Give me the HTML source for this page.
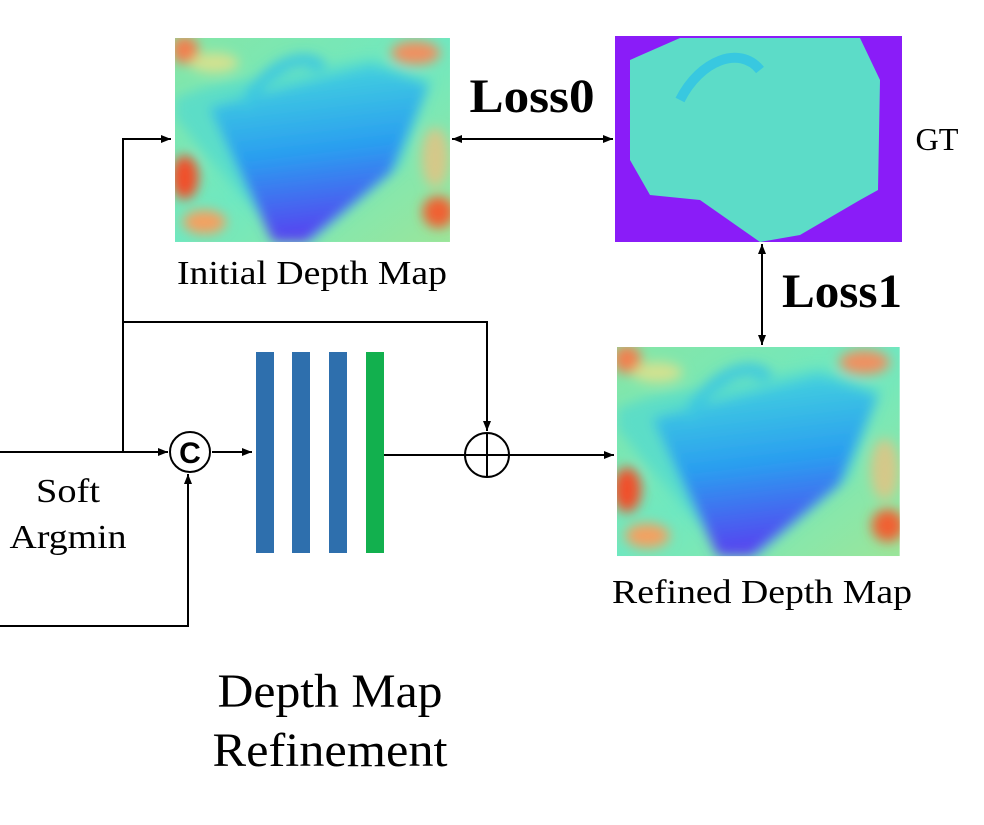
<!DOCTYPE html>
<html><head><meta charset="utf-8"><style>
html,body{margin:0;padding:0;background:#fff}
svg{display:block}
text{font-family:"Liberation Serif",serif;fill:#000}
</style></head><body>
<svg width="984" height="825" viewBox="0 0 984 825">
<defs>
<linearGradient id="bg" x1="0" y1="0" x2="1" y2="1">
<stop offset="0" stop-color="#86e6a6"/><stop offset="0.5" stop-color="#6fe8c0"/><stop offset="1" stop-color="#9be69a"/></linearGradient>
<linearGradient id="blu" x1="0.3" y1="0" x2="0.45" y2="1">
<stop offset="0" stop-color="#45d6dc"/><stop offset="0.5" stop-color="#2a9ef0"/><stop offset="1" stop-color="#5a3cf0"/></linearGradient>
<filter id="soft" x="0" y="0" width="1" height="1"><feGaussianBlur stdDeviation="6"/></filter>
<clipPath id="dc"><rect x="0" y="0" width="280" height="205"/></clipPath>
<marker id="ah" markerWidth="10" markerHeight="8" refX="10" refY="4" orient="auto" markerUnits="userSpaceOnUse"><path d="M0,0 L10,4 L0,8 Z" fill="#000"/></marker>
<marker id="ahs" markerWidth="10" markerHeight="8" refX="0" refY="4" orient="auto" markerUnits="userSpaceOnUse"><path d="M10,0 L0,4 L10,8 Z" fill="#000"/></marker>
<g id="dmap" clip-path="url(#dc)">
<rect x="0" y="0" width="280" height="205" fill="url(#bg)"/>
<g filter="url(#soft)">
<polygon points="0,60 30,50 200,20 262,42 230,130 140,205 110,205 60,150 0,80" fill="#50d8d0" opacity="0.7"/>
<polygon points="35,70 200,28 258,48 220,135 135,205 100,205" fill="url(#blu)"/>
<path d="M70,70 C90,30 130,10 150,30" stroke="#3cc8e0" stroke-width="12" fill="none"/>
<ellipse cx="10" cy="140" rx="14" ry="22" fill="#f0502a"/>
<ellipse cx="30" cy="185" rx="22" ry="12" fill="#f4a060"/>
<ellipse cx="268" cy="175" rx="16" ry="16" fill="#f06030"/>
<ellipse cx="265" cy="120" rx="14" ry="30" fill="#e8c080" opacity="0.8"/>
<ellipse cx="10" cy="12" rx="14" ry="14" fill="#f08050"/>
<ellipse cx="245" cy="15" rx="25" ry="12" fill="#f09060"/>
<ellipse cx="40" cy="25" rx="25" ry="10" fill="#e8e088" opacity="0.8"/>
</g>
</g>
</defs>

<use href="#dmap" transform="translate(175,38) scale(0.982,0.995)"/>
<g>
<rect x="615" y="36" width="287" height="206" fill="#8a1cf8"/>
<polygon points="630,60 680,38 860,38 880,80 878,190 860,200 800,235 760,242 700,200 650,195 630,160" fill="#5cdcc8"/>
<path d="M680,100 C700,60 740,45 760,70" stroke="#38c8e0" stroke-width="10" fill="none"/>
</g>
<use href="#dmap" transform="translate(617,347) scale(1.01,1.02)"/>

<text x="312" y="284" font-size="30" textLength="270" lengthAdjust="spacingAndGlyphs" text-anchor="middle" style="font-size:34px">Initial Depth Map</text>
<text x="532" y="112" font-size="48" font-weight="bold" textLength="125" lengthAdjust="spacingAndGlyphs" text-anchor="middle">Loss0</text>
<text x="937" y="150" font-size="32" textLength="43" lengthAdjust="spacingAndGlyphs" text-anchor="middle">GT</text>
<text x="842" y="307" font-size="48" font-weight="bold" textLength="120" lengthAdjust="spacingAndGlyphs" text-anchor="middle">Loss1</text>
<text x="762" y="603" font-size="34" textLength="300" lengthAdjust="spacingAndGlyphs" text-anchor="middle">Refined Depth Map</text>
<text x="68" y="502" font-size="34" textLength="64" lengthAdjust="spacingAndGlyphs" text-anchor="middle">Soft</text>
<text x="68" y="548" font-size="34" textLength="117" lengthAdjust="spacingAndGlyphs" text-anchor="middle">Argmin</text>
<text x="330" y="707" font-size="48" textLength="225" lengthAdjust="spacingAndGlyphs" text-anchor="middle">Depth Map</text>
<text x="330" y="766" font-size="48" textLength="235" lengthAdjust="spacingAndGlyphs" text-anchor="middle">Refinement</text>

<g stroke="#000" stroke-width="2" fill="none">
<line x1="452" y1="139" x2="613" y2="139" marker-start="url(#ahs)" marker-end="url(#ah)"/>
<line x1="762" y1="244" x2="762" y2="345" marker-start="url(#ahs)" marker-end="url(#ah)"/>
<line x1="0" y1="452" x2="168" y2="452" marker-end="url(#ah)"/>
<polyline points="123,452 123,139 171,139" marker-end="url(#ah)"/>
<polyline points="123,322 487,322 487,431" marker-end="url(#ah)"/>
<polyline points="0,626 188,626 188,474" marker-end="url(#ah)"/>
<line x1="212" y1="452" x2="252" y2="452" marker-end="url(#ah)"/>
<line x1="384" y1="455" x2="465" y2="455"/>
<line x1="509" y1="455" x2="614" y2="455" marker-end="url(#ah)"/>
<circle cx="190" cy="452" r="20" fill="#fff"/>
<circle cx="487" cy="455" r="22" fill="#fff"/>
<line x1="465" y1="455" x2="509" y2="455"/>
<line x1="487" y1="433" x2="487" y2="477"/>
</g>
<text x="190" y="463" font-size="30" font-weight="bold" text-anchor="middle" style="font-family:'Liberation Sans',sans-serif">C</text>
<g>
<rect x="256" y="352" width="18" height="201" fill="#2e6fad"/>
<rect x="292" y="352" width="18" height="201" fill="#2e6fad"/>
<rect x="329" y="352" width="18" height="201" fill="#2e6fad"/>
<rect x="366" y="352" width="18" height="201" fill="#12b04e"/>
</g>
</svg>
</body></html>
